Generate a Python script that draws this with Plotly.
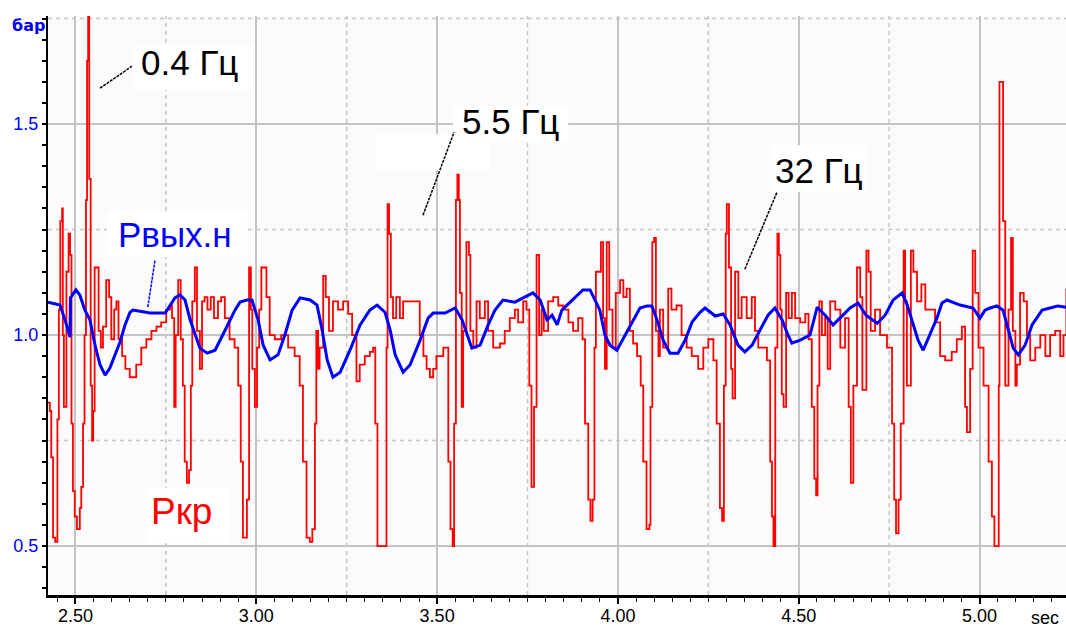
import plotly.graph_objects as go

# ---------------- data ----------------
t_red = [
    2.424, 2.429, 2.433, 2.438, 2.444, 2.450, 2.454, 2.458, 2.463, 2.465,
    2.468, 2.475, 2.481, 2.485, 2.489, 2.493, 2.498, 2.504, 2.512, 2.516,
    2.521, 2.525, 2.529, 2.532, 2.535, 2.538, 2.542, 2.546, 2.549, 2.553,
    2.559, 2.564, 2.570, 2.576, 2.585, 2.593, 2.599, 2.607, 2.613, 2.619,
    2.629, 2.638, 2.650, 2.659, 2.668, 2.682, 2.696, 2.710, 2.724, 2.737,
    2.751, 2.761, 2.767, 2.773, 2.777, 2.784, 2.791, 2.797, 2.802, 2.808,
    2.814, 2.819, 2.823, 2.830, 2.836, 2.844, 2.850, 2.857, 2.865, 2.874,
    2.883, 2.894, 2.903, 2.913, 2.926, 2.940, 2.950, 2.957, 2.963, 2.970,
    2.974, 2.980, 2.985, 2.989, 2.996, 3.002, 3.008, 3.014, 3.021, 3.028,
    3.037, 3.051, 3.069, 3.088, 3.106, 3.120, 3.129, 3.139, 3.148, 3.155,
    3.162, 3.166, 3.171, 3.175, 3.185, 3.192, 3.201, 3.212, 3.226, 3.240,
    3.254, 3.265, 3.277, 3.286, 3.300, 3.314, 3.323, 3.329, 3.335, 3.346,
    3.355, 3.360, 3.363, 3.367, 3.372, 3.378, 3.387, 3.397, 3.406, 3.415,
    3.434, 3.452, 3.462, 3.471, 3.480, 3.489, 3.498, 3.517, 3.531, 3.537,
    3.543, 3.547, 3.552, 3.556, 3.560, 3.563, 3.568, 3.572, 3.581, 3.588,
    3.592, 3.600, 3.609, 3.618, 3.632, 3.641, 3.655, 3.674, 3.687, 3.701,
    3.715, 3.724, 3.738, 3.747, 3.755, 3.761, 3.768, 3.775, 3.782, 3.789,
    3.795, 3.807, 3.821, 3.835, 3.849, 3.863, 3.876, 3.890, 3.902, 3.909,
    3.918, 3.924, 3.930, 3.935, 3.939, 3.946, 3.953, 3.959, 3.964, 3.969,
    3.976, 3.985, 3.994, 4.006, 4.015, 4.024, 4.033, 4.042, 4.053, 4.063,
    4.070, 4.079, 4.087, 4.090, 4.095, 4.100, 4.105, 4.112, 4.116, 4.125,
    4.139, 4.148, 4.162, 4.176, 4.190, 4.204, 4.222, 4.236, 4.250, 4.264,
    4.273, 4.282, 4.288, 4.293, 4.298, 4.301, 4.307, 4.313, 4.317, 4.324,
    4.333, 4.342, 4.356, 4.370, 4.379, 4.388, 4.398, 4.412, 4.421, 4.426,
    4.430, 4.435, 4.441, 4.445, 4.449, 4.453, 4.458, 4.465, 4.472, 4.481,
    4.490, 4.504, 4.518, 4.527, 4.536, 4.543, 4.548, 4.552, 4.557, 4.564,
    4.573, 4.580, 4.587, 4.601, 4.615, 4.628, 4.638, 4.644, 4.651, 4.661,
    4.670, 4.676, 4.687, 4.693, 4.699, 4.711, 4.725, 4.744, 4.758, 4.764,
    4.769, 4.776, 4.782, 4.790, 4.794, 4.799, 4.810, 4.817, 4.827, 4.839,
    4.850, 4.864, 4.877, 4.891, 4.905, 4.923, 4.937, 4.951, 4.960, 4.965,
    4.974, 4.981, 4.988, 4.997, 5.011, 5.025, 5.034, 5.041, 5.048, 5.053,
    5.055, 5.059, 5.065, 5.071, 5.080, 5.087, 5.092, 5.099, 5.103, 5.112,
    5.122, 5.131, 5.140, 5.154, 5.168, 5.182, 5.195, 5.209, 5.223, 5.232, 5.240,
]
p_red = [
    0.84, 0.82, 0.71, 0.52, 0.51, 0.80, 1.06, 1.27, 1.30, 1.00,
    0.83, 1.15, 1.24, 1.19, 0.79, 0.63, 0.57, 0.54, 0.59, 0.64,
    0.79, 1.00, 1.32, 1.65, 1.76, 1.37, 0.88, 0.75, 0.82, 1.16,
    1.16, 1.01, 0.97, 1.02, 1.13, 1.09, 0.99, 1.06, 1.08, 0.99,
    0.95, 0.92, 0.90, 0.90, 0.93, 0.97, 0.99, 1.01, 1.02, 1.03,
    1.06, 1.07, 1.04, 0.83, 1.00, 1.13, 0.99, 0.88, 0.70, 0.65,
    0.68, 0.88, 1.08, 1.16, 1.01, 0.92, 1.08, 1.09, 1.06, 1.09,
    1.04, 1.08, 1.09, 1.04, 0.99, 0.97, 0.88, 0.70, 0.52, 0.52,
    0.61, 1.16, 1.06, 0.92, 0.83, 0.97, 1.06, 1.16, 1.16, 1.09,
    1.00, 0.99, 1.00, 0.97, 0.95, 0.88, 0.70, 0.52, 0.51, 0.54,
    0.79, 1.01, 0.92, 0.97, 1.14, 1.09, 1.01, 1.08, 1.06, 1.08,
    1.05, 1.00, 0.89, 0.93, 0.95, 0.96, 0.97, 0.79, 0.50, 0.50,
    0.50, 0.97, 1.31, 1.24, 1.09, 1.04, 1.09, 1.04, 1.08, 1.08,
    1.08, 1.00, 0.95, 0.92, 0.90, 0.92, 0.95, 0.97, 0.70, 0.54,
    0.50, 0.79, 1.32, 1.38, 1.32, 1.10, 0.83, 1.01, 1.22, 1.19,
    1.01, 0.97, 1.08, 1.04, 1.08, 1.01, 0.97, 0.98, 1.01, 1.04,
    1.06, 1.03, 1.08, 1.06, 0.88, 0.64, 0.83, 1.19, 1.00, 1.06,
    1.01, 1.08, 1.09, 1.07, 1.06, 1.03, 1.01, 1.04, 0.99, 0.79,
    0.61, 0.56, 0.61, 0.97, 1.15, 1.15, 1.22, 1.04, 0.92, 1.22,
    1.06, 0.97, 1.10, 1.13, 1.09, 1.11, 1.01, 0.98, 0.95, 0.88,
    0.70, 0.54, 0.55, 0.83, 1.22, 1.23, 1.01, 0.95, 1.06, 0.97,
    1.11, 1.06, 1.07, 1.00, 0.97, 0.95, 0.92, 0.97, 0.99, 0.94,
    0.79, 0.59, 0.56, 0.88, 1.24, 1.31, 1.16, 0.92, 0.85, 1.15,
    1.04, 1.09, 1.04, 1.09, 1.01, 0.97, 0.97, 0.94, 0.70, 0.57,
    0.50, 0.97, 1.24, 1.19, 1.06, 0.86, 0.83, 1.10, 1.04, 1.10,
    1.04, 1.03, 1.05, 0.99, 0.83, 0.66, 0.62, 0.88, 1.08, 1.00,
    1.04, 0.92, 1.08, 1.06, 0.97, 1.04, 0.83, 0.65, 0.88, 1.16,
    1.09, 0.87, 1.20, 1.15, 1.01, 1.06, 1.00, 0.97, 0.79, 0.61,
    0.53, 0.61, 0.79, 1.20, 1.08, 0.88, 1.20, 1.15, 1.08, 1.12,
    1.06, 1.06, 1.03, 0.95, 0.94, 0.96, 0.99, 1.02, 0.83, 0.77,
    0.92, 1.20, 1.10, 0.97, 0.88, 0.70, 0.57, 0.50, 0.50, 0.88,
    1.60, 1.60, 1.27, 0.88, 1.06, 1.23, 1.01, 0.88, 0.93, 1.10,
    1.08, 1.00, 0.94, 0.97, 1.00, 0.95, 1.00, 1.01, 0.95, 1.00, 1.11,
]

t_blue = [
    2.424, 2.457, 2.471, 2.485, 2.486, 2.501, 2.512, 2.526, 2.540, 2.554,
    2.568, 2.582, 2.595, 2.609, 2.623, 2.637, 2.651, 2.659, 2.706, 2.748,
    2.761, 2.775, 2.789, 2.803, 2.817, 2.831, 2.844, 2.864, 2.886, 2.914,
    2.941, 2.955, 2.974, 2.988, 3.005, 3.019, 3.038, 3.060, 3.079, 3.099,
    3.121, 3.149, 3.168, 3.182, 3.196, 3.212, 3.232, 3.259, 3.287, 3.314,
    3.334, 3.356, 3.370, 3.384, 3.406, 3.425, 3.453, 3.475, 3.489, 3.522,
    3.550, 3.569, 3.583, 3.596, 3.619, 3.641, 3.660, 3.682, 3.715, 3.743,
    3.765, 3.785, 3.804, 3.818, 3.832, 3.845, 3.859, 3.881, 3.903, 3.923,
    3.937, 3.950, 3.964, 3.978, 3.997, 4.020, 4.039, 4.061, 4.080, 4.094,
    4.108, 4.125, 4.144, 4.166, 4.186, 4.205, 4.227, 4.241, 4.269, 4.291,
    4.310, 4.332, 4.351, 4.371, 4.393, 4.415, 4.434, 4.454, 4.470, 4.481,
    4.504, 4.531, 4.551, 4.573, 4.595, 4.614, 4.642, 4.664, 4.686, 4.717,
    4.739, 4.761, 4.786, 4.800, 4.816, 4.830, 4.844, 4.863, 4.882, 4.896,
    4.910, 4.946, 4.982, 5.001, 5.015, 5.029, 5.048, 5.065, 5.079, 5.093,
    5.107, 5.126, 5.145, 5.173, 5.195, 5.217, 5.239,
]
p_blue = [
    1.078, 1.071, 1.036, 0.995, 1.088, 1.107, 1.095, 1.059, 1.036, 0.976,
    0.929, 0.905, 0.922, 0.953, 0.983, 1.024, 1.054, 1.059, 1.052, 1.052,
    1.071, 1.088, 1.095, 1.083, 1.036, 1.000, 0.969, 0.957, 0.964, 1.012,
    1.059, 1.078, 1.083, 1.083, 1.036, 0.976, 0.941, 0.953, 1.000, 1.059,
    1.088, 1.083, 1.071, 1.012, 0.941, 0.900, 0.912, 0.964, 1.024, 1.059,
    1.071, 1.054, 1.012, 0.953, 0.912, 0.929, 0.988, 1.040, 1.052, 1.052,
    1.064, 1.036, 1.000, 0.969, 0.976, 1.024, 1.059, 1.083, 1.078, 1.090,
    1.100, 1.083, 1.036, 1.047, 1.024, 1.059, 1.071, 1.088, 1.107, 1.107,
    1.083, 1.059, 1.000, 0.976, 0.964, 1.000, 1.031, 1.064, 1.069, 1.069,
    1.036, 0.988, 0.957, 0.957, 0.988, 1.031, 1.054, 1.064, 1.045, 1.050,
    1.024, 0.976, 0.960, 0.976, 1.012, 1.047, 1.064, 1.036, 1.000, 0.981,
    0.988, 1.000, 1.066, 1.047, 1.024, 1.040, 1.064, 1.076, 1.047, 1.028,
    1.047, 1.083, 1.100, 1.071, 1.024, 0.988, 0.964, 1.000, 1.040, 1.076,
    1.083, 1.071, 1.064, 1.040, 1.059, 1.064, 1.069, 1.059, 1.012, 0.969,
    0.953, 0.976, 1.024, 1.059, 1.064, 1.069, 1.066,
]

x_dashed_grid = [2.75, 3.25, 3.75, 4.25, 4.75]
y_dashed_grid = [0.75, 1.25, 1.75]

assert len(t_red) == len(p_red), (len(t_red), len(p_red))
assert len(t_blue) == len(p_blue), (len(t_blue), len(p_blue))

RED = "#ff0000"
BLUE = "#0000ff"
GRID = "#c4c4c4"

fig = go.Figure()
fig.add_trace(go.Scatter(x=t_red, y=p_red, mode="lines", line_shape="hv",
                         line=dict(color=RED, width=1.8), name="Pкр",
                         hoverinfo="skip"))
fig.add_trace(go.Scatter(x=t_blue, y=p_blue, mode="lines",
                         line=dict(color=BLUE, width=3), name="Pвых.н",
                         hoverinfo="skip"))

shapes = []
for xv in x_dashed_grid:
    shapes.append(dict(type="line", xref="x", yref="paper", x0=xv, x1=xv, y0=0, y1=1,
                       line=dict(color=GRID, width=1.5, dash="4px,4px"), layer="below"))
for yv in y_dashed_grid:
    shapes.append(dict(type="line", xref="paper", yref="y", x0=0, x1=1, y0=yv, y1=yv,
                       line=dict(color=GRID, width=1.5, dash="4px,4px"), layer="below"))

# white label boxes (t0, t1, y0, y1)
boxes = [
    (2.659, 2.991, 1.581, 1.687),
    (3.544, 3.862, 1.460, 1.543),
    (3.328, 3.646, 1.391, 1.476),
    (4.426, 4.689, 1.339, 1.450),
    (2.587, 2.974, 1.185, 1.291),
    (2.698, 2.928, 0.507, 0.637),
]
for (a, b, c, d) in boxes:
    shapes.append(dict(type="rect", xref="x", yref="y", x0=a, x1=b, y0=c, y1=d,
                       fillcolor="white", line=dict(width=0), layer="between"))

# leader lines
leaders = [
    ((2.568, 1.585), (2.656, 1.637), "black"),
    ((3.461, 1.284), (3.547, 1.481), "black"),
    ((4.351, 1.156), (4.440, 1.339), "black"),
    ((2.700, 1.066), (2.720, 1.178), BLUE),
]
for (p0, p1, col) in leaders:
    shapes.append(dict(type="line", xref="x", yref="y", x0=p0[0], y0=p0[1], x1=p1[0], y1=p1[1],
                       line=dict(color=col, width=1.5, dash="3px,1px"), layer="above"))

LBL = "Liberation Sans, Arial, sans-serif"
annotations = [
    dict(x=2.815, y=1.646, text="0.4 Гц", font=dict(family=LBL, size=35, color="black")),
    dict(x=3.704, y=1.507, text="5.5 Гц", font=dict(family=LBL, size=35, color="black")),
    dict(x=4.556, y=1.389, text="32 Гц", font=dict(family=LBL, size=35, color="black")),
    dict(x=2.775, y=1.239, text="Рвых.н", font=dict(family=LBL, size=35, color=BLUE)),
    dict(x=2.792, y=0.583, text="Ркр", font=dict(family=LBL, size=37, color=RED)),
]
for a in annotations:
    a.update(xref="x", yref="y", showarrow=False, xanchor="center", yanchor="middle")
annotations.append(dict(xref="paper", yref="paper", x=-0.019, y=0.984, text="<b>бар</b>",
                        showarrow=False, xanchor="center", yanchor="middle",
                        font=dict(family="DejaVu Sans, sans-serif", size=16, color=BLUE)))
annotations.append(dict(xref="paper", yref="paper", x=0.979, y=-0.040, text="sec",
                        showarrow=False, xanchor="center", yanchor="middle",
                        font=dict(family=LBL, size=18, color="black")))

fig.update_layout(
    width=1066, height=627,
    margin=dict(l=48, r=0, t=16, b=32, autoexpand=False),
    paper_bgcolor="white", plot_bgcolor="#fbfbfb",
    showlegend=False,
    shapes=shapes, annotations=annotations,
)
fig.update_xaxes(
    range=[2.424, 5.239], tick0=2.5, dtick=0.5, tickformat=".2f",
    showgrid=True, gridcolor=GRID, gridwidth=1.5, zeroline=False,
    showline=True, linecolor="black", linewidth=2.5,
    ticks="outside", ticklen=6, tickwidth=1.5, tickcolor="black",
    ticklabelstandoff=-3,
    tickfont=dict(family=LBL, size=18, color="black"),
    minor=dict(dtick=0.05, tick0=2.5, ticks="outside", ticklen=4, tickwidth=1,
               tickcolor="black", showgrid=False),
    automargin=False,
)
fig.update_yaxes(
    range=[0.384, 1.756], tick0=0.5, dtick=0.5, tickformat=".1f",
    showgrid=True, gridcolor=GRID, gridwidth=1.5, zeroline=False,
    showline=True, linecolor="black", linewidth=2,
    ticks="outside", ticklen=4, tickwidth=1.5, tickcolor="black",
    tickfont=dict(family=LBL, size=18, color=BLUE),
    minor=dict(dtick=0.05, tick0=0.5, ticks="outside", ticklen=4, tickwidth=1.5,
               tickcolor="black", showgrid=False),
    automargin=False,
)

fig.write_html("out.html")
